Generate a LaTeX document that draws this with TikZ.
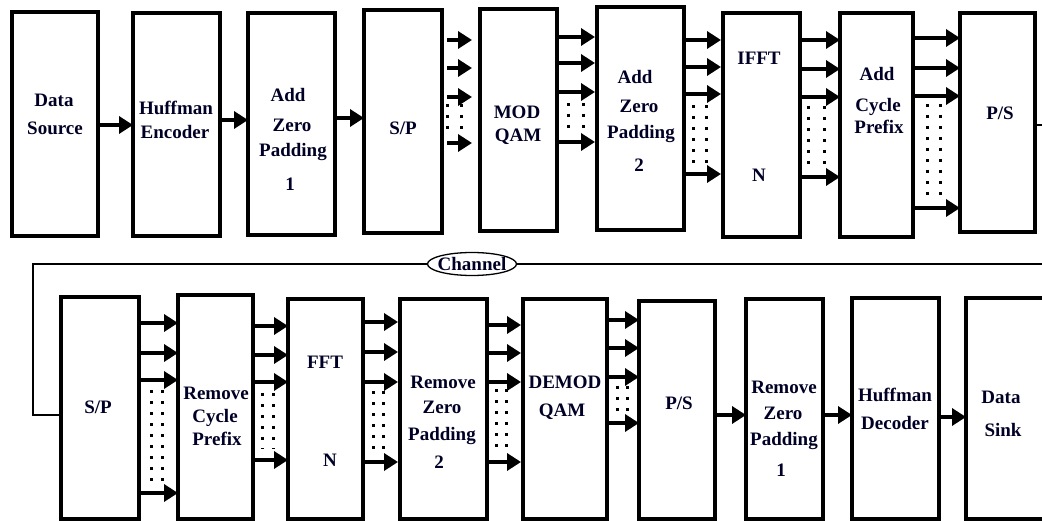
\documentclass[tikz,border=0pt]{standalone}
\usepackage{fontspec}
\setmainfont{Liberation Serif}
\usetikzlibrary{arrows.meta,shapes.geometric}
\newcommand\blkat[5]{\node[blk, minimum width={#4-#2}, minimum height={#5-#3}] (#1) at ({(#2+#4)/2},{(#3+#5)/2}) {};}
\newcommand\txt[4]{\node[lbl] (#1) at (#2,#3) {#4};}
\newcommand\bus[5]{\foreach \yy in {#3} {\draw[arr, shorten <=#4, shorten >=#5] (#1.east |- 0,\yy) -- (#2.west |- 0,\yy);}}
\newcommand\dotcol[3]{\draw[dotsty] (#1,#2) -- (#1,#3);}
\begin{document}
\begin{tikzpicture}[x=1pt,y=-1pt,
  blk/.style={draw, line width=3.4pt, fill=white, inner sep=0pt, outer sep=0pt},
  lbl/.style={inner sep=0pt, text height=12.5pt, text depth=0pt, font=\fontsize{19}{22}\selectfont\bfseries, text=black!85!blue},
  arr/.style={line width=3.4pt, -{Triangle[length=14pt,width=17pt]}},
  dotsty/.style={line width=3pt, dash pattern=on 3pt off 8pt},
  wire/.style={line width=2.8pt}]
\useasboundingbox (0,0) rectangle (1042,521);
\fill[white] (0,0) rectangle (1042,521);
% top row
\blkat{ds}{12}{12}{98}{236}
\blkat{he}{133}{13}{220}{236}
\blkat{azpa}{248}{13}{335}{235}
\blkat{spa}{364}{10}{442}{233}
\blkat{mod}{480}{9}{557}{231}
\blkat{azpb}{597}{7}{684}{230}
\blkat{ifft}{723}{13}{800}{237}
\blkat{acp}{840}{13}{913}{237}
\blkat{psa}{960}{13}{1035}{232}
% bottom row
\blkat{spb}{61}{297}{139}{519}
\blkat{rcp}{178}{295}{253}{519}
\blkat{fft}{288}{299}{363}{519}
\blkat{rzpb}{400}{299}{487}{519}
\blkat{dem}{523}{299}{607}{519}
\blkat{psb}{639}{301}{715}{519}
\blkat{rzpa}{746}{299}{823}{519}
\blkat{hd}{852}{298}{939}{519}
\blkat{dsk}{966}{298}{1052}{519}
% labels top
\txt{t1}{54}{100}{Data}
\txt{t2}{55}{128}{Source}
\txt{t3}{176}{108}{Huffman}
\txt{t4}{175}{132}{Encoder}
\txt{t5}{288}{95}{Add}
\txt{t6}{292}{125}{Zero}
\txt{t7}{293}{150}{Padding}
\txt{t8}{290}{184}{1}
\txt{t9}{403}{128}{S/P}
\txt{t10}{517}{112}{MOD}
\txt{t11}{518}{135}{QAM}
\txt{t12}{635}{77}{Add}
\txt{t13}{639}{106}{Zero}
\txt{t14}{641}{132}{Padding}
\txt{t15}{639}{165}{2}
\txt{t16}{759}{58}{IFFT}
\txt{t17}{759}{175}{N}
\txt{t18}{877}{74}{Add}
\txt{t19}{878}{105}{Cycle}
\txt{t20}{879}{127}{Prefix}
\txt{t21}{1000}{113}{P/S}
% labels bottom
\txt{b1}{98}{407}{S/P}
\txt{b2}{216}{393}{Remove}
\txt{b3}{215}{416}{Cycle}
\txt{b4}{217}{439}{Prefix}
\txt{b5}{325}{362}{FFT}
\txt{b6}{330}{460}{N}
\txt{b7}{443}{382}{Remove}
\txt{b8}{442}{407}{Zero}
\txt{b9}{442}{434}{Padding}
\txt{b10}{439}{462}{2}
\txt{b11}{565}{382}{DEMOD}
\txt{b12}{562}{410}{QAM}
\txt{b13}{679}{403}{P/S}
\txt{b14}{784}{387}{Remove}
\txt{b15}{783}{413}{Zero}
\txt{b16}{784}{439}{Padding}
\txt{b17}{781}{470}{1}
\txt{b18}{895}{395}{Huffman}
\txt{b19}{895}{423}{Decoder}
\txt{b20}{1001}{397}{Data}
\txt{b21}{1003}{430}{Sink}
% single arrows
\draw[arr] (ds.east |- 0,125) -- (he.west |- 0,125);
\draw[arr] (he.east |- 0,120) -- (azpa.west |- 0,120);
\draw[arr] (azpa.east |- 0,118) -- (spa.west |- 0,118);
\draw[arr] (psb.east |- 0,415) -- (rzpa.west |- 0,415);
\draw[arr] (rzpa.east |- 0,415) -- (hd.west |- 0,415);
\draw[arr] (hd.east |- 0,417) -- (dsk.west |- 0,417);
% buses top
\bus{spa}{mod}{40,68,97,143}{5pt}{8pt}
\bus{mod}{azpb}{37,63,92,142}{0pt}{2pt}
\bus{azpb}{ifft}{40,67,94,174}{0pt}{2pt}
\bus{ifft}{acp}{40,69,97,177}{0pt}{0pt}
\bus{acp}{psa}{38,68,96,208}{0pt}{0pt}
\dotcol{447}{104}{134}\dotcol{461}{104}{134}
\dotcol{568}{103}{132}\dotcol{583}{103}{132}
\dotcol{693}{105}{166}\dotcol{706}{105}{166}
\dotcol{808}{106}{168}\dotcol{824}{106}{168}
\dotcol{927}{104}{198}\dotcol{940}{104}{198}
% buses bottom
\bus{spb}{rcp}{323,353,380,493}{0pt}{0pt}
\bus{rcp}{fft}{326,355,382,460}{0pt}{0pt}
\bus{fft}{rzpb}{322,352,382,462}{0pt}{2pt}
\bus{rzpb}{dem}{325,353,382,462}{0pt}{2pt}
\bus{dem}{psb}{320,348,377,423}{0pt}{0pt}
\dotcol{151}{390}{483}\dotcol{162}{390}{483}
\dotcol{262}{393}{449}\dotcol{273}{393}{449}
\dotcol{373}{391}{452}\dotcol{383}{391}{452}
\dotcol{496}{389}{450}\dotcol{506}{389}{450}
\dotcol{617}{386}{414}\dotcol{627}{386}{414}
% channel
\node[draw, ellipse, line width=1.3pt, fill=white, minimum width=89pt, minimum height=23pt, inner sep=0pt] (chan) at (472,264) {};
\node[lbl] (chanlbl) at (472,264) {Channel};
\coordinate (c1) at (1050,125);
\coordinate (c2) at (1050,264);
\coordinate (c3) at (33,264);
\coordinate (c4) at (33,415);
\draw[wire] (psa.east |- c1) -- (c1) -- (c2) -- (chan.east);
\draw[wire] (chan.west) -- (c3) -- (c4) -- (spb.west |- c4);
\end{tikzpicture}
\end{document}
